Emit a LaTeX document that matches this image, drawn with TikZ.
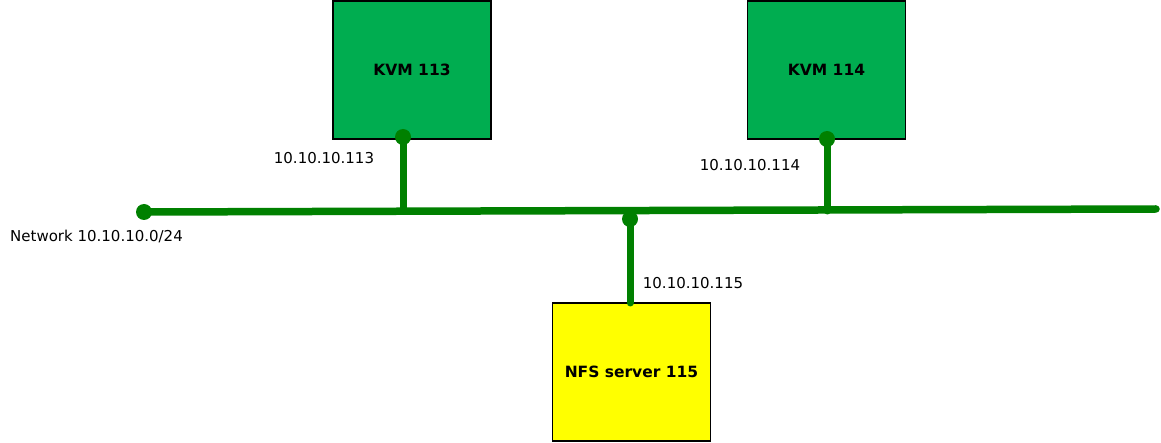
\documentclass[tikz,border=0pt]{standalone}
\usepackage{fontspec}
\setmainfont{DejaVu Sans}
\definecolor{boxgreen}{RGB}{0,173,80}
\definecolor{linegreen}{RGB}{0,128,0}
\definecolor{nfsyellow}{RGB}{255,255,0}
\begin{document}
\begin{tikzpicture}[x=1pt,y=-1pt,
  hostbox/.style={draw=black,line width=1.5pt,minimum width=158pt,minimum height=138pt,inner sep=0pt,
    font=\fontsize{15.5}{17}\selectfont\bfseries},
  wire/.style={draw=linegreen,line width=7pt,line cap=round},
  bus/.style={draw=linegreen,line width=7.5pt,line cap=round},
  dot/.style={circle,fill=linegreen,minimum size=16pt,inner sep=0pt},
  iplabel/.style={font=\fontsize{15}{17}\selectfont,text=black,inner sep=0pt}]
\useasboundingbox (0,0) rectangle (1161,443);
% hosts
\node[hostbox,fill=boxgreen] (kvm113) at (412,70) {KVM 113};
\node[hostbox,fill=boxgreen] (kvm114) at (826.5,70) {KVM 114};
\node[hostbox,fill=nfsyellow] (nfs) at (631.5,372) {NFS server 115};
% bus coordinates
\coordinate (busL) at (144,212);
\coordinate (busR) at (1156,209);
\coordinate (t113) at (403,211.5);
\coordinate (t114) at (827,211);
\coordinate (t115) at (630,219);
\coordinate (d113) at (403,137);
\coordinate (d114) at (827,139);
\coordinate (d115) at (630,303);
% bus and drops
\draw[bus] (busL) -- (busR);
\draw[wire] (d113) -- (t113);
\draw[wire] (d114) -- (t114);
\draw[wire] (t115) -- (d115);
\node[dot] (p0) at (busL) {};
\node[dot] (p113) at (d113) {};
\node[dot] (p114) at (d114) {};
\node[dot] (p115) at (t115) {};
% labels
\node[iplabel] (l113) at (324,158) {10.10.10.113};
\node[iplabel] (l114) at (750,165) {10.10.10.114};
\node[iplabel] (l115) at (693,283) {10.10.10.115};
\node[iplabel,anchor=west] (lnet) at (10,236) {Network 10.10.10.0/24};
\end{tikzpicture}
\end{document}
